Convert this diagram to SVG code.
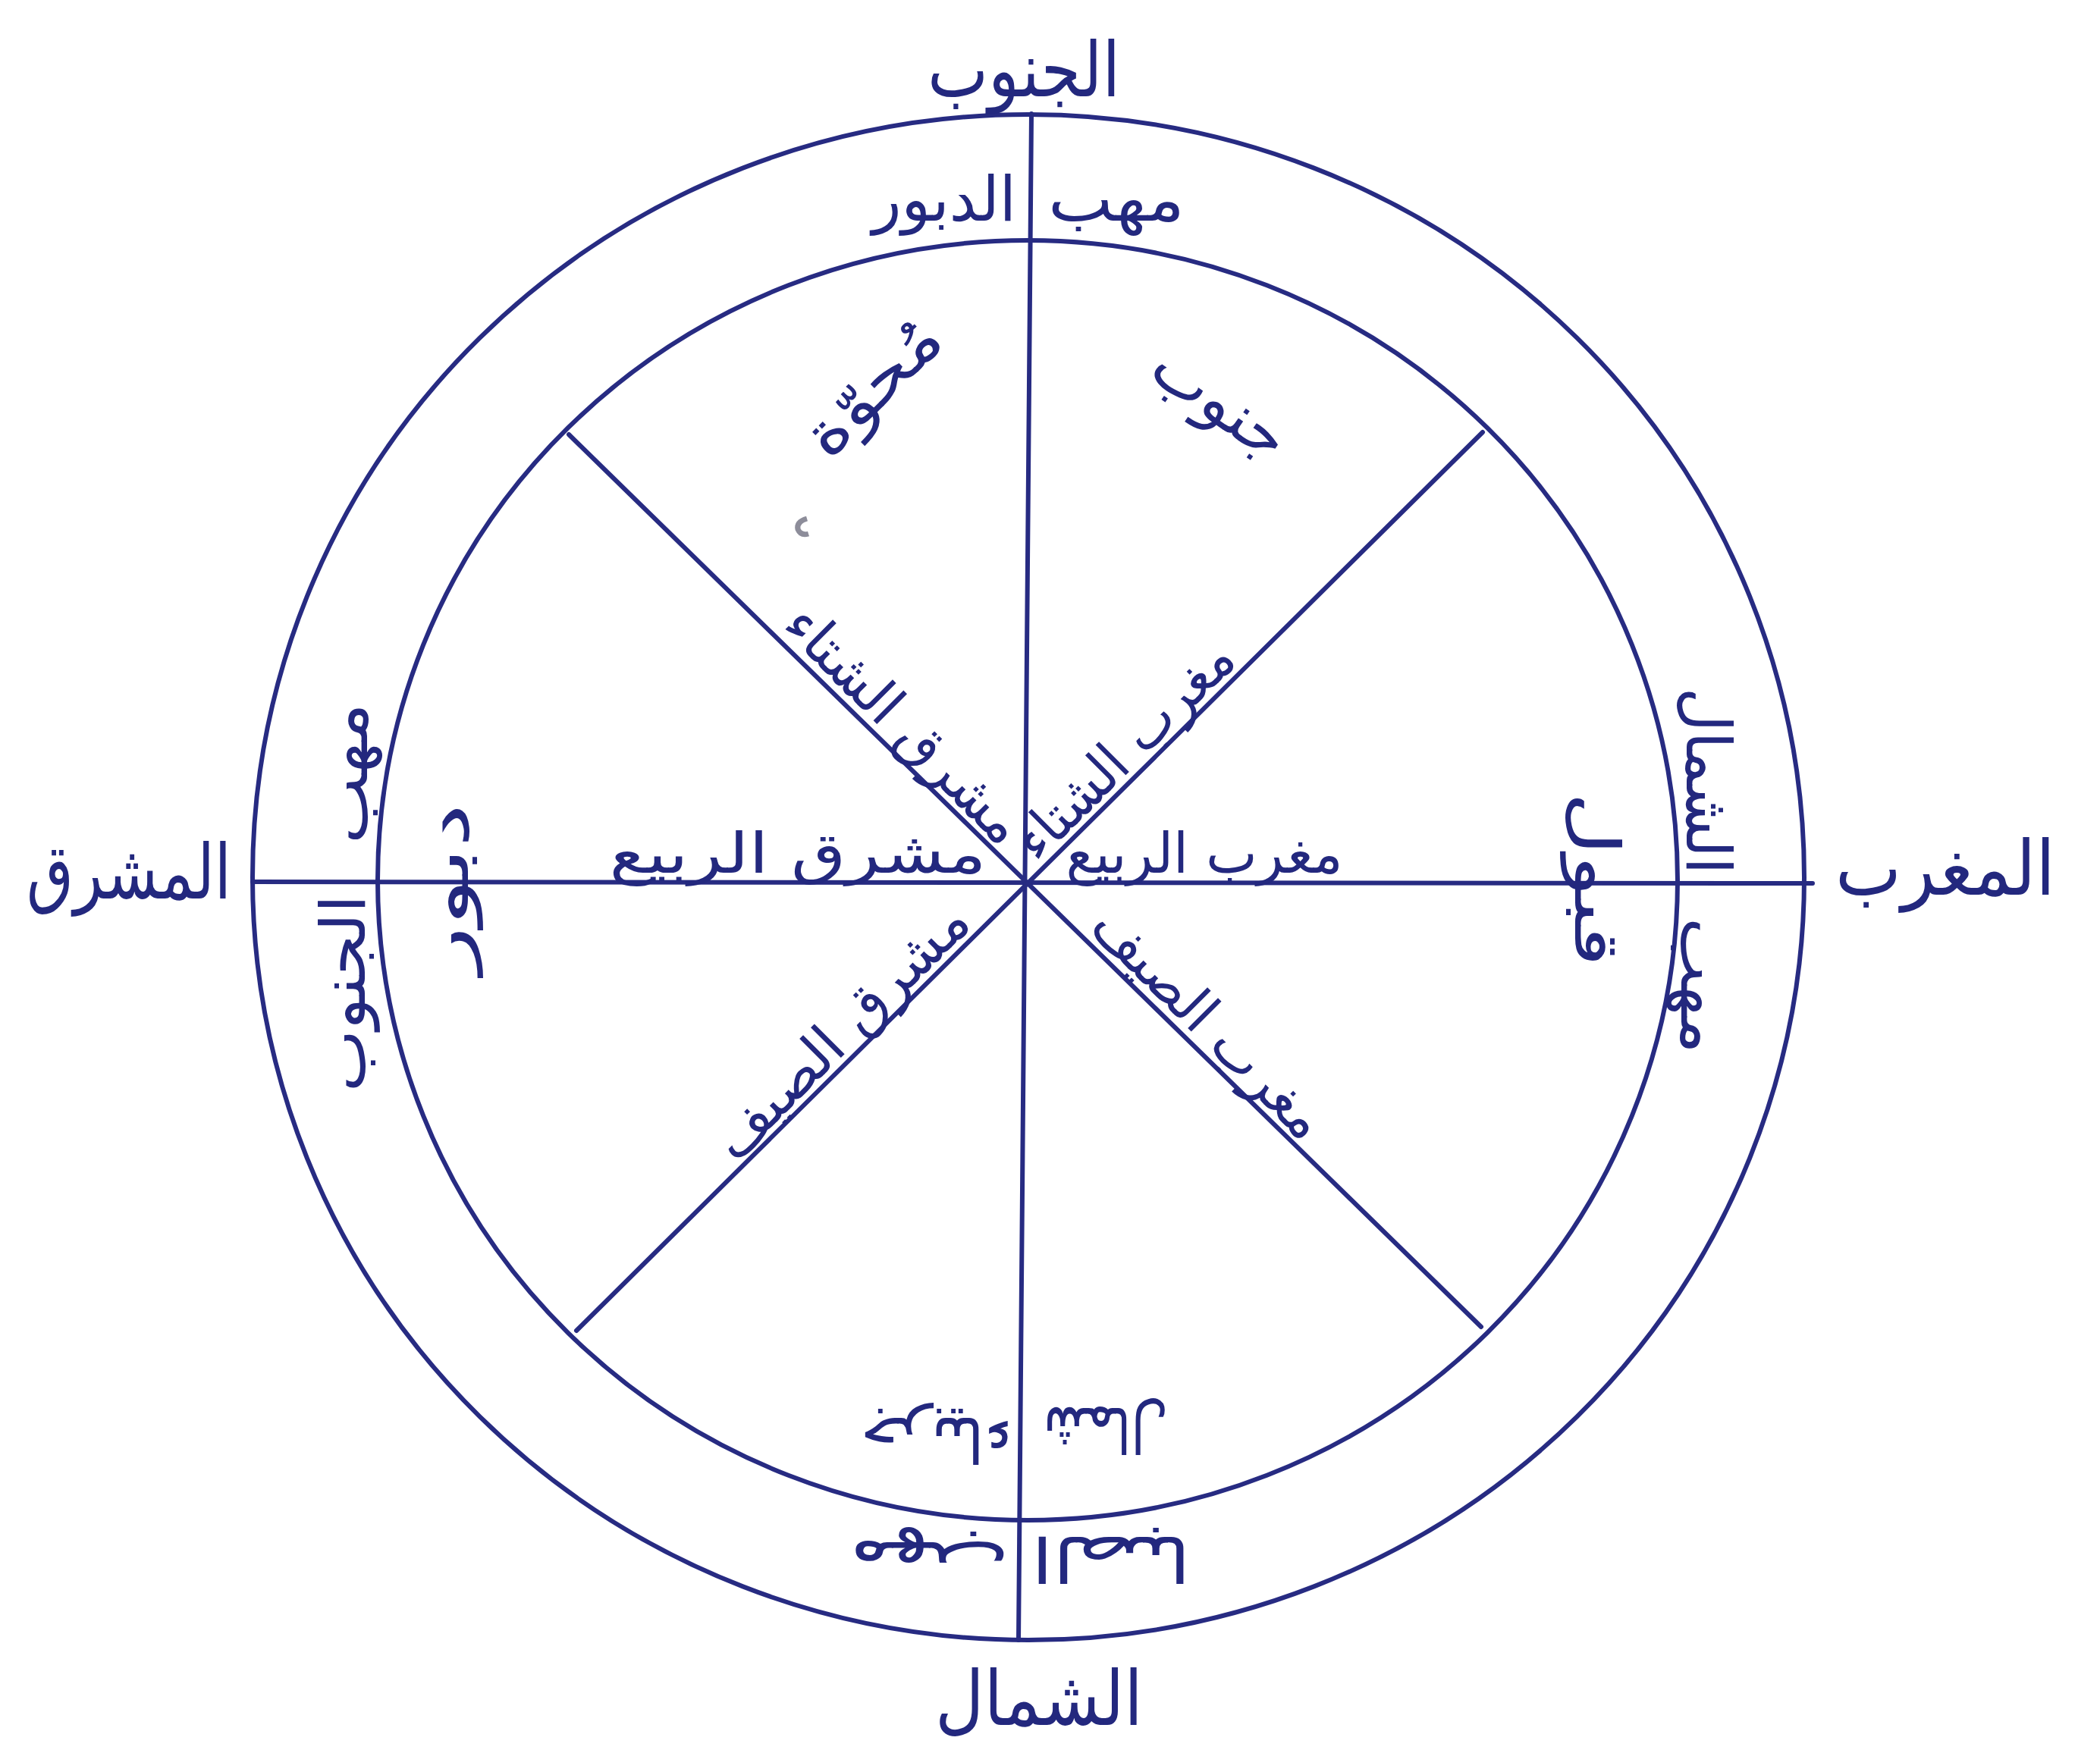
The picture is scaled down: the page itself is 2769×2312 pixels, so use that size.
<svg xmlns="http://www.w3.org/2000/svg" width="2769" height="2312" viewBox="0 0 2769 2312">
<style>
.ln{stroke:#272b82;stroke-width:6;fill:none;stroke-linecap:round}
.t{font-family:"DejaVu Sans",sans-serif;fill:#23287e;text-anchor:middle;dominant-baseline:central}
.big{font-size:100px}
.mid{font-size:82px}
.sm{font-size:74px}
</style>
<rect width="2769" height="2312" fill="#ffffff"/>
<g id="connectors">
<ellipse class="ln" cx="1356" cy="1157" rx="1023" ry="1006"/>
<ellipse class="ln" cx="1355" cy="1161" rx="857" ry="844"/>
<line class="ln" x1="1360" y1="150" x2="1343" y2="2163"/>
<line class="ln" x1="333" y1="1163" x2="2390" y2="1165"/>
<line class="ln" x1="750" y1="573" x2="1953" y2="1750"/>
<line class="ln" x1="1955" y1="570" x2="760" y2="1755"/>
<path d="M1064 684 q-14 4 -12 14 q4 9 14 6" stroke="#8d8d9a" stroke-width="7" fill="none"/>
</g>
<g id="label-south"><text class="t big" x="1350" y="92" textLength="254" lengthAdjust="spacingAndGlyphs">الجنوب</text></g>
<g id="label-north"><text class="t big" x="1370" y="2240" textLength="274" lengthAdjust="spacingAndGlyphs">الشمال</text></g>
<g id="label-east"><text class="t big" x="170" y="1150" textLength="270" lengthAdjust="spacingAndGlyphs">المشرق</text></g>
<g id="label-west"><text class="t big" x="2565" y="1145" textLength="290" lengthAdjust="spacingAndGlyphs">المغرب</text></g>
<g id="ring-top">
<text class="t mid" x="1472" y="262" textLength="180" lengthAdjust="spacingAndGlyphs">مهب</text>
<text class="t mid" x="1245" y="262" textLength="190" lengthAdjust="spacingAndGlyphs">الدبور</text>
</g>
<g id="ring-bottom">
<text class="t mid" transform="translate(1225,2062) rotate(180)" textLength="210" lengthAdjust="spacingAndGlyphs">مهب</text>
<text class="t mid" transform="translate(1465,2055) rotate(180)" textLength="210" lengthAdjust="spacingAndGlyphs">الصبا</text>
</g>
<g id="ring-left">
<text class="t mid" transform="translate(455,1020) rotate(-90)" textLength="186" lengthAdjust="spacingAndGlyphs">مهب</text>
<text class="t mid" transform="translate(452,1310) rotate(-90)" textLength="260" lengthAdjust="spacingAndGlyphs">الجنوب</text>
</g>
<g id="ring-right">
<text class="t mid" transform="translate(2252,1030) rotate(90)" textLength="246" lengthAdjust="spacingAndGlyphs">الشمال</text>
<text class="t mid" transform="translate(2245,1300) rotate(90)" textLength="180" lengthAdjust="spacingAndGlyphs">مهب</text>
</g>
<g id="inner-top-left"><text class="t mid" transform="translate(1150,510) rotate(-45)" textLength="220" lengthAdjust="spacingAndGlyphs">مُحوّة</text></g>
<g id="inner-top-right"><text class="t mid" transform="translate(1610,530) rotate(35)" textLength="200" lengthAdjust="spacingAndGlyphs">جنوب</text></g>
<g id="inner-left"><text class="t mid" transform="translate(588,1172) rotate(-90)" textLength="225" lengthAdjust="spacingAndGlyphs">دبور</text></g>
<g id="inner-right"><text class="t mid" transform="translate(2105,1160) rotate(90)" textLength="230" lengthAdjust="spacingAndGlyphs">قبول</text></g>
<g id="inner-bottom">
<text class="t mid" transform="translate(1235,1898) rotate(180)" textLength="200" lengthAdjust="spacingAndGlyphs">جربياء</text>
<text class="t mid" transform="translate(1458,1885) rotate(180)" textLength="165" lengthAdjust="spacingAndGlyphs">شمال</text>
</g>
<g id="line-winter-east"><text class="t sm" transform="translate(1193,955) rotate(45)" textLength="411" lengthAdjust="spacingAndGlyphs">مشرق الشتاء</text></g>
<g id="line-winter-west"><text class="t sm" transform="translate(1482,988) rotate(-45)" textLength="375" lengthAdjust="spacingAndGlyphs">مغرب الشتاء</text></g>
<g id="line-spring-east"><text class="t sm" x="1052" y="1125" textLength="497" lengthAdjust="spacingAndGlyphs">مشرق الربيع</text></g>
<g id="line-spring-west"><text class="t sm" x="1588" y="1125" textLength="365" lengthAdjust="spacingAndGlyphs">مغرب الربيع</text></g>
<g id="line-summer-east"><text class="t sm" transform="translate(1108,1359) rotate(-45)" textLength="444" lengthAdjust="spacingAndGlyphs">مشرق الصيف</text></g>
<g id="line-summer-west"><text class="t sm" transform="translate(1595,1348) rotate(45)" textLength="400" lengthAdjust="spacingAndGlyphs">مغرب الصيف</text></g>
</svg>
